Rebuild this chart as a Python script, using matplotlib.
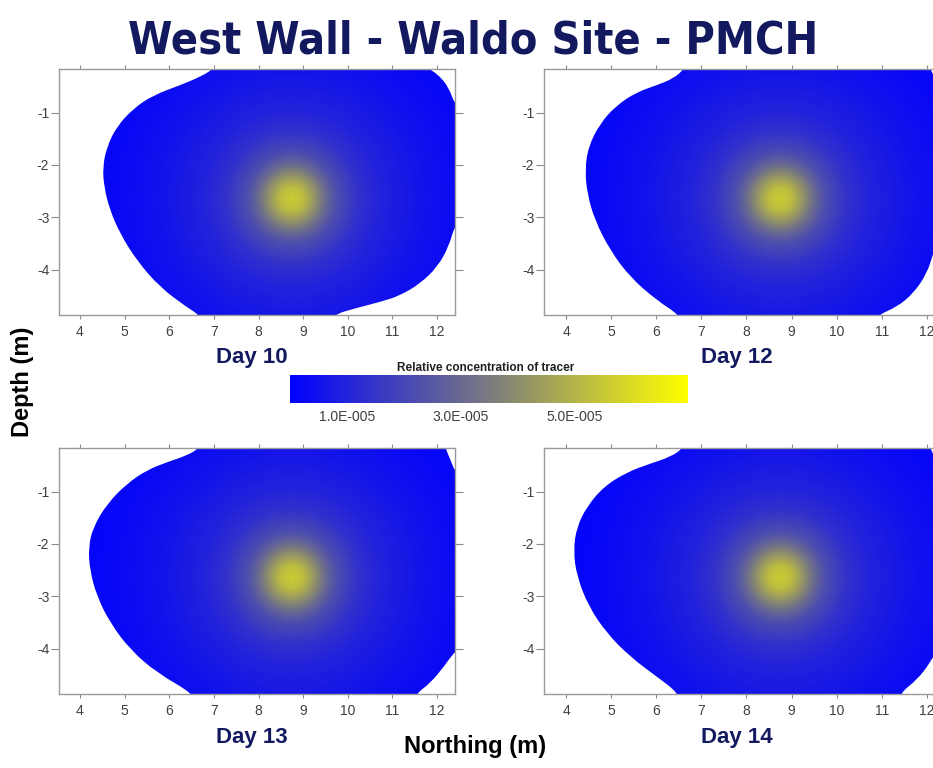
import numpy as np
import matplotlib
matplotlib.use("Agg")
import matplotlib.pyplot as plt
from matplotlib.colors import LinearSegmentedColormap, Normalize
from matplotlib.patches import PathPatch
from matplotlib.path import Path
from matplotlib import font_manager
from matplotlib.font_manager import FontProperties

# ---------------- data ----------------
panel_titles = ["Day 10", "Day 12", "Day 13", "Day 14"]

# tracer plume: centre (Northing, Depth) and radial concentration profile
plume_center_x = 8.75
plume_center_y = -2.64
profile_radius = [0.0, 0.25, 0.5, 0.75, 1.0, 1.5, 2.0, 3.0, 4.0, 5.0, 7.0, 20.0]
profile_conc = [5.6e-5, 5.25e-5, 4.2e-5, 3.08e-5, 2.24e-5, 1.4e-5, 0.98e-5, 0.52e-5,
                0.25e-5, 0.08e-5, 0.0, 0.0]
depth_aspect = 1.17  # depth distance weighting (spot looks round on screen)

# blanking outlines (Northing, Depth) of the mapped area for each day
day10_x = [7.05, 6.99, 6.69, 6.24, 5.64, 5.20, 4.82, 4.60, 4.51, 4.54, 4.67, 4.90, 5.27,
           5.79, 6.39, 6.69, 6.75, 9.60, 9.67, 10.13, 10.73, 11.17, 11.62, 12.00, 12.26,
           12.41, 12.70, 12.70, 12.41, 12.26, 12.00, 11.81, 11.75]
day10_y = [0.00, -0.17, -0.32, -0.48, -0.67, -0.92, -1.27, -1.66, -2.04, -2.42, -2.86,
           -3.31, -3.82, -4.33, -4.71, -4.87, -5.10, -5.10, -4.86, -4.74, -4.61, -4.49,
           -4.26, -3.95, -3.56, -3.11, -3.00, -0.80, -0.89, -0.51, -0.26, -0.17, 0.00]

day12_x = [6.66, 6.62, 6.38, 6.01, 5.57, 5.12, 4.75, 4.49, 4.42, 4.47, 4.64, 4.98, 5.42,
           6.01, 6.53, 6.58, 10.85, 10.89, 11.33, 11.70, 12.00, 12.14, 12.30, 12.45,
           12.70, 12.70, 12.40, 12.25, 12.07, 12.03]
day12_y = [0.00, -0.17, -0.35, -0.48, -0.61, -0.86, -1.21, -1.66, -2.10, -2.55, -3.06,
           -3.63, -4.14, -4.58, -4.87, -5.10, -5.10, -4.87, -4.71, -4.45, -4.07, -3.69,
           -3.30, -3.00, -2.90, -0.80, -0.75, -0.45, -0.17, 0.00]

day13_x = [6.70, 6.66, 6.40, 5.95, 5.50, 5.05, 4.61, 4.30, 4.19, 4.22, 4.38, 4.68, 5.13,
           5.73, 6.55, 6.60, 11.48, 11.52, 11.85, 12.15, 12.42, 12.70, 12.70, 12.42,
           12.30, 12.19, 12.15]
day13_y = [0.00, -0.18, -0.31, -0.44, -0.59, -0.85, -1.23, -1.67, -2.05, -2.50, -3.00,
           -3.51, -4.02, -4.46, -4.86, -5.10, -5.10, -4.86, -4.65, -4.34, -4.02, -3.90,
           -0.60, -0.66, -0.40, -0.18, 0.00]

day14_x = [6.63, 6.59, 6.31, 5.86, 5.35, 4.83, 4.46, 4.24, 4.16, 4.24, 4.50, 4.90, 5.42,
           6.01, 6.49, 6.53, 11.37, 11.41, 11.78, 12.07, 12.30, 12.45, 12.70, 12.70,
           12.40, 12.25, 12.07, 12.03]
day14_y = [0.00, -0.18, -0.34, -0.47, -0.63, -0.91, -1.29, -1.67, -2.12, -2.62, -3.19,
           -3.70, -4.15, -4.53, -4.84, -5.10, -5.10, -4.84, -4.59, -4.27, -3.90, -3.50,
           -3.30, -0.80, -0.75, -0.45, -0.18, 0.00]

outlines = [(day10_x, day10_y), (day12_x, day12_y), (day13_x, day13_y), (day14_x, day14_y)]

x_ticks = [4, 5, 6, 7, 8, 9, 10, 11, 12]
y_ticks = [-1, -2, -3, -4]
x_limits = [(3.53, 12.4), (3.51, 12.38), (3.53, 12.4), (3.51, 12.38)]
y_limits = (-4.86, -0.17)

cbar_min, cbar_max = 0.0, 7.0e-5
cbar_ticks = [1.0e-5, 3.0e-5, 5.0e-5]
cbar_ticklabels = ["1.0E-005", "3.0E-005", "5.0E-005"]
cbar_title = "Relative concentration of tracer"

# ---------------- fonts ----------------
plt.rcParams['font.family'] = ['Liberation Sans', 'DejaVu Sans']
title_fp = None
for f in font_manager.fontManager.ttflist:
    fn = f.fname
    if (("Narrow" in fn or "Condensed" in fn) and "Bold" in fn
            and "Italic" not in fn and "Oblique" not in fn):
        title_fp = FontProperties(fname=fn)
        break
if title_fp is None:
    title_fp = FontProperties(family="Liberation Sans", weight="bold")

W, H = 933, 768
fig = plt.figure(figsize=(W / 100, H / 100), dpi=100)
navy = "#13195e"

cmap = LinearSegmentedColormap.from_list("by", [(0.0, (0, 0, 1.0)),
                                                (0.5, (0.48, 0.48, 0.50)),
                                                (1.0, (1.0, 1.0, 0.0))])
norm = Normalize(cbar_min, cbar_max)

rects_px = [(59, 69, 396, 246), (544, 69, 400, 246), (59, 448, 396, 246), (544, 448, 400, 246)]
label_pos = [(252, 358), (737, 358), (252, 737), (737, 737)]

gx = np.linspace(3.4, 12.8, 500)
gy = np.linspace(-5.2, 0.1, 400)
GX, GY = np.meshgrid(gx, gy)
R = np.sqrt((GX - plume_center_x) ** 2 + ((GY - plume_center_y) * depth_aspect) ** 2)
field = np.interp(R, profile_radius, profile_conc)


def smooth_path(xs, ys):
    p = np.column_stack([xs, ys])
    n = len(p)
    mids = (p + np.roll(p, -1, axis=0)) / 2.0
    verts = [mids[-1]]
    codes = [Path.MOVETO]
    for k in range(n):
        verts += [p[k], mids[k]]
        codes += [Path.CURVE3, Path.CURVE3]
    verts.append(mids[-1])
    codes.append(Path.CLOSEPOLY)
    return Path(np.array(verts), codes)


for i in range(4):
    l, t, w, h = rects_px[i]
    ax = fig.add_axes([l / W, 1 - (t + h) / H, w / W, h / H])
    im = ax.imshow(field, extent=(gx[0], gx[-1], gy[0], gy[-1]), origin="lower",
                   cmap=cmap, norm=norm, interpolation="bilinear", aspect="auto", zorder=1)
    ox, oy = outlines[i]
    patch = PathPatch(smooth_path(ox, oy), transform=ax.transData,
                      facecolor="none", edgecolor="none")
    ax.add_patch(patch)
    im.set_clip_path(patch)
    ax.set_xlim(*x_limits[i])
    ax.set_ylim(*y_limits)
    ax.set_xticks(x_ticks)
    ax.set_yticks(y_ticks)
    ax.set_xticklabels([str(v) for v in x_ticks], fontsize=10, color="#404040")
    ax.set_yticklabels([str(v) for v in y_ticks], fontsize=10, color="#404040")
    ax.tick_params(axis="x", which="both", top=True, bottom=True, direction="out",
                   length=6, width=0.8, color="#8a8a8a", pad=4)
    ax.tick_params(axis="x", which="both", bottom=True, length=3)
    ax.tick_params(axis="y", which="both", left=True, right=True, direction="out",
                   length=6, width=0.8, color="#8a8a8a", pad=1)
    for s in ax.spines.values():
        s.set_color("#9a9a9a")
        s.set_linewidth(1.0)
        s.set_zorder(3)
    fig.text(label_pos[i][0] / W, 1 - label_pos[i][1] / H, panel_titles[i], ha="center",
             va="center", fontsize=16, fontweight="bold", color=navy)

# colourbar
cax = fig.add_axes([290 / W, 1 - 403 / H, 398 / W, 28 / H])
cb = fig.colorbar(plt.cm.ScalarMappable(norm=norm, cmap=cmap), cax=cax, orientation="horizontal")
cb.set_ticks(cbar_ticks)
cb.set_ticklabels(cbar_ticklabels)
cb.outline.set_visible(False)
cax.tick_params(length=0, pad=5, labelsize=10, labelcolor="#404040")
fig.text(486 / W, 1 - 368 / H, cbar_title, ha="center", va="center", fontsize=8.5,
         fontweight="bold", color="#202020")

title = fig.text(473 / W, 1 - 54 / H, "West Wall - Waldo Site - PMCH", ha="center",
                 va="baseline", fontproperties=title_fp, fontsize=40, color=navy)
fig.canvas.draw()
tw = title.get_window_extent(renderer=fig.canvas.get_renderer()).width
title.set_fontsize(min(42.0, 40.0 * 690.0 / tw))

fig.text(475 / W, 1 - 747 / H, "Northing (m)", ha="center", va="center", fontsize=17,
         fontweight="bold", color="black")
fig.text(23 / W, 1 - 382 / H, "Depth (m)", ha="center", va="center", fontsize=17,
         fontweight="bold", color="black", rotation=90)

fig.savefig("out.png", dpi=100)
